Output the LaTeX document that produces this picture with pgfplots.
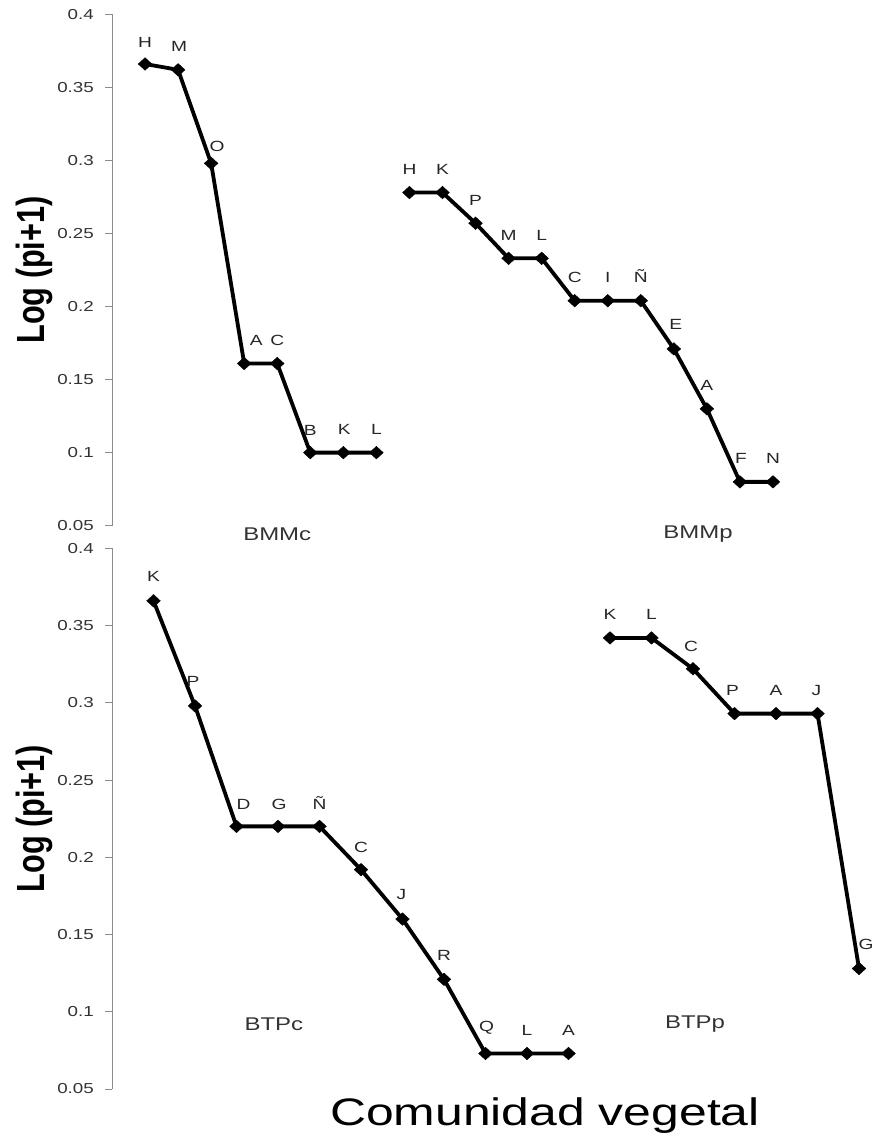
\documentclass[border=0pt]{standalone}
\usepackage{pgfplots}
\pgfplotsset{compat=1.18}
\usepackage{pgfplotstable}
\usepackage{graphicx}
\usepackage{fontspec}
\setmainfont{Liberation Sans}[FakeStretch=1.3]
\newfontfamily\plainsans{Liberation Sans}

% columns: position, Log(pi+1), species letter, label offsets (bp)
\pgfplotstableread{
x  y     lab dx dy
1  0.366 H   0  21
2  0.362 M   1  23
3  0.298 O   6  17
4  0.161 A   12 23
5  0.161 C   0  23
6  0.100 B   0  22
7  0.100 K   1  23
8  0.100 L   0  23
}\bmmc
\pgfplotstableread{
x  y     lab dx dy
9  0.278 H   0  23
10 0.278 K   0  23
11 0.257 P   0  23
12 0.233 M   0  23
13 0.233 L   0  23
14 0.204 C   0  23
15 0.204 I   0  23
16 0.204 Ñ   0  23
17 0.171 E   2  24
18 0.130 A   0  23
19 0.080 F   1  23
20 0.080 N   0  23
}\bmmp
\pgfplotstableread{
x  y     lab dx dy
1  0.366 K   0  24
2  0.298 P   -2 24
3  0.220 D   7  22
4  0.220 G   1  22
5  0.220 Ñ   0  22
6  0.192 C   0  22
7  0.160 J   -1 24
8  0.121 R   0  24
9  0.073 Q   1  24
10 0.073 L   0  23
11 0.073 A   0  23
}\btpc
\pgfplotstableread{
x  y     lab dx dy
12 0.342 K   0  23
13 0.342 L   0  23
14 0.322 C   -2 22
15 0.293 P   -2 23
16 0.293 A   0  23
17 0.293 J   -1 23
18 0.128 G   7  24
}\btpp

\pgfplotsset{
  panel/.style={
    scale only axis, clip=false,
    axis y line*=left, axis x line=none,
    ymin=0.05, ymax=0.4,
    ytick={0.05,0.1,0.15,0.2,0.25,0.3,0.35,0.4},
    yticklabels={0.05,0.1,0.15,0.2,0.25,0.3,0.35,0.4},
    xtick=\empty,
    tick align=outside, major tick length=7bp,
    axis line style={draw=black!45, line width=0.8bp},
    major tick style={draw=black!45, line width=0.8bp},
    yticklabel style={font=\fontsize{14.5}{15}\selectfont, text=black!80,
      anchor=east, inner sep=0pt, xshift=-11bp},
    ylabel={\scalebox{1}[1.28]{\plainsans\bfseries\fontsize{30.8}{32}\selectfont Log (pi+1)}},
  },
  series/.style={
    black, line width=3.8bp,
    mark=diamond*, mark size=6.3bp,
    mark options={solid, fill=black, line width=0.4bp, xscale=1.45},
    point meta=explicit symbolic,
    visualization depends on={\thisrow{dx} \as \ldx},
    visualization depends on={\thisrow{dy} \as \ldy},
    nodes near coords,
    every node near coord/.append style={anchor=south, inner sep=0pt,
      xshift=\ldx bp, yshift=\ldy bp - 5.2bp,
      font=\fontsize{14.8}{15}\selectfont, text=black!85},
  },
}
\tikzset{panel label/.style={font=\fontsize{18.5}{19}\selectfont, text=black!80}}

\begin{document}
\begin{tikzpicture}
\path[use as bounding box] (0,0) rectangle (873bp,-1136bp);

% upper panel: BMMc and BMMp
\begin{axis}[panel,
  at={(112bp,-525.7bp)}, anchor=south west,
  width=677.5bp, height=511.4bp,
  xmin=0, xmax=20.5,
  ylabel style={at={(axis description cs:-0.1151,0.5)}, anchor=center},
]
\addplot[series] table[x=x, y=y, meta=lab] {\bmmc};
\addplot[series] table[x=x, y=y, meta=lab] {\bmmp};
\node[panel label] at (axis cs:5,0.0443) {BMMc};
\node[panel label] at (axis cs:17.73,0.0443) {BMMp};
\end{axis}

% lower panel: BTPc and BTPp
\begin{axis}[panel,
  at={(112bp,-1089bp)}, anchor=south west,
  width=747bp, height=540.7bp,
  xmin=0, xmax=18,
  ylabel style={at={(axis description cs:-0.1044,0.5)}, anchor=center},
]
\addplot[series] table[x=x, y=y, meta=lab] {\btpc};
\addplot[series] table[x=x, y=y, meta=lab] {\btpp};
\node[panel label] at (axis cs:3.9,0.092) {BTPc};
\node[panel label] at (axis cs:14.05,0.092) {BTPp};
\node[anchor=base, font=\fontsize{38.5}{40}\selectfont, text=black]
  at (axis description cs:0.5797,-0.0666) {Comunidad vegetal};
\end{axis}
\end{tikzpicture}
\end{document}
